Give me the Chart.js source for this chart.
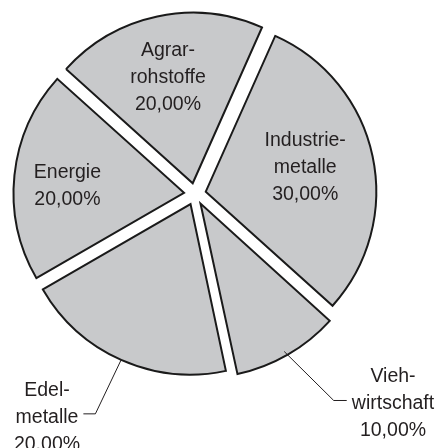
<!DOCTYPE html>
<html>
<head>
<meta charset="utf-8">
<script src="https://cdn.jsdelivr.net/npm/chart.js@4"></script>
<style>
html,body{margin:0;padding:0;background:#fff;}
#wrap{width:440px;height:448px;position:relative;}
</style>
</head>
<body>
<div id="wrap"><canvas id="c" width="440" height="448"></canvas></div>
<script>
const categories = ['Industriemetalle', 'Viehwirtschaft', 'Edelmetalle', 'Energie', 'Agrarrohstoffe'];
const shares = [30, 10, 20, 20, 20];
const labelLines = [
  ['Industrie-', 'metalle', '30,00%'],
  ['Vieh-', 'wirtschaft', '10,00%'],
  ['Edel-', 'metalle', '20,00%'],
  ['Energie', '20,00%'],
  ['Agrar-', 'rohstoffe', '20,00%']
];

const FONT = '19.5px "Liberation Sans", Arial, sans-serif';
const LINE_H = 27;
const SLICE_OFFSET = 44; // Chart.js translates each slice by offset/4

// label placement: inside -> distance from centre (px); outside -> leader line
const labelPlacement = [
  {type: 'inside', d: 114, da: -2.8, ty: 2.5},
  {type: 'outside', da: 0.5, dx: 49.5, dy: 49, hx: 13, textX: 393, ty: 3},
  {type: 'outside', da: 0, dx: -26, dy: 54.5, hx: -12, textX: 47, ty: 4},
  {type: 'inside', d: 128, da: -1.3, ty: 2.5},
  {type: 'inside', d: 122, da: -0.8, ty: 2.5}
];

const labelPlugin = {
  id: 'sliceLabels',
  afterDatasetsDraw(chart) {
    const ctx = chart.ctx;
    const meta = chart.getDatasetMeta(0);
    ctx.save();
    ctx.font = FONT;
    ctx.fillStyle = '#231f20';
    ctx.textAlign = 'center';
    ctx.textBaseline = 'middle';
    meta.data.forEach((arc, i) => {
      const p = arc.getProps(['x', 'y', 'startAngle', 'endAngle', 'outerRadius'], true);
      const mid = (p.startAngle + p.endAngle) / 2;
      const pl = labelPlacement[i];
      const lines = labelLines[i];
      const a = mid + pl.da * Math.PI / 180;
      if (pl.type === 'inside') {
        const cx = p.x + Math.cos(a) * pl.d;
        const cy = p.y + Math.sin(a) * pl.d + pl.ty;
        const top = cy - (lines.length - 1) * LINE_H / 2;
        lines.forEach((t, k) => ctx.fillText(t, cx, top + k * LINE_H));
      } else {
        const t = SLICE_OFFSET / 4;
        const tx = p.x + Math.cos(mid) * t;
        const ty = p.y + Math.sin(mid) * t;
        const sx = tx + Math.cos(a) * p.outerRadius;
        const sy = ty + Math.sin(a) * p.outerRadius;
        const ex = sx + pl.dx, ey = sy + pl.dy;
        ctx.beginPath();
        ctx.strokeStyle = '#231f20';
        ctx.lineWidth = 1;
        ctx.moveTo(sx, sy);
        ctx.lineTo(ex, ey);
        ctx.lineTo(ex + pl.hx, ey);
        ctx.stroke();
        const top = ey - LINE_H + pl.ty;
        lines.forEach((s, k) => ctx.fillText(s, pl.textX, top + k * LINE_H));
      }
    });
    ctx.restore();
  }
};

new Chart(document.getElementById('c'), {
  type: 'pie',
  data: {
    labels: categories,
    datasets: [{
      data: shares,
      backgroundColor: '#c8c9cb',
      borderColor: '#1a1a1a',
      borderWidth: 2,
      offset: SLICE_OFFSET,
      borderJoinStyle: 'miter'
    }]
  },
  options: {
    responsive: false,
    animation: false,
    rotation: 24,
    radius: 170,
    layout: {padding: {left: 0, right: 50, top: 0, bottom: 60}},
    plugins: {legend: {display: false}, tooltip: {enabled: false}}
  },
  plugins: [labelPlugin]
});
</script>
</body>
</html>
